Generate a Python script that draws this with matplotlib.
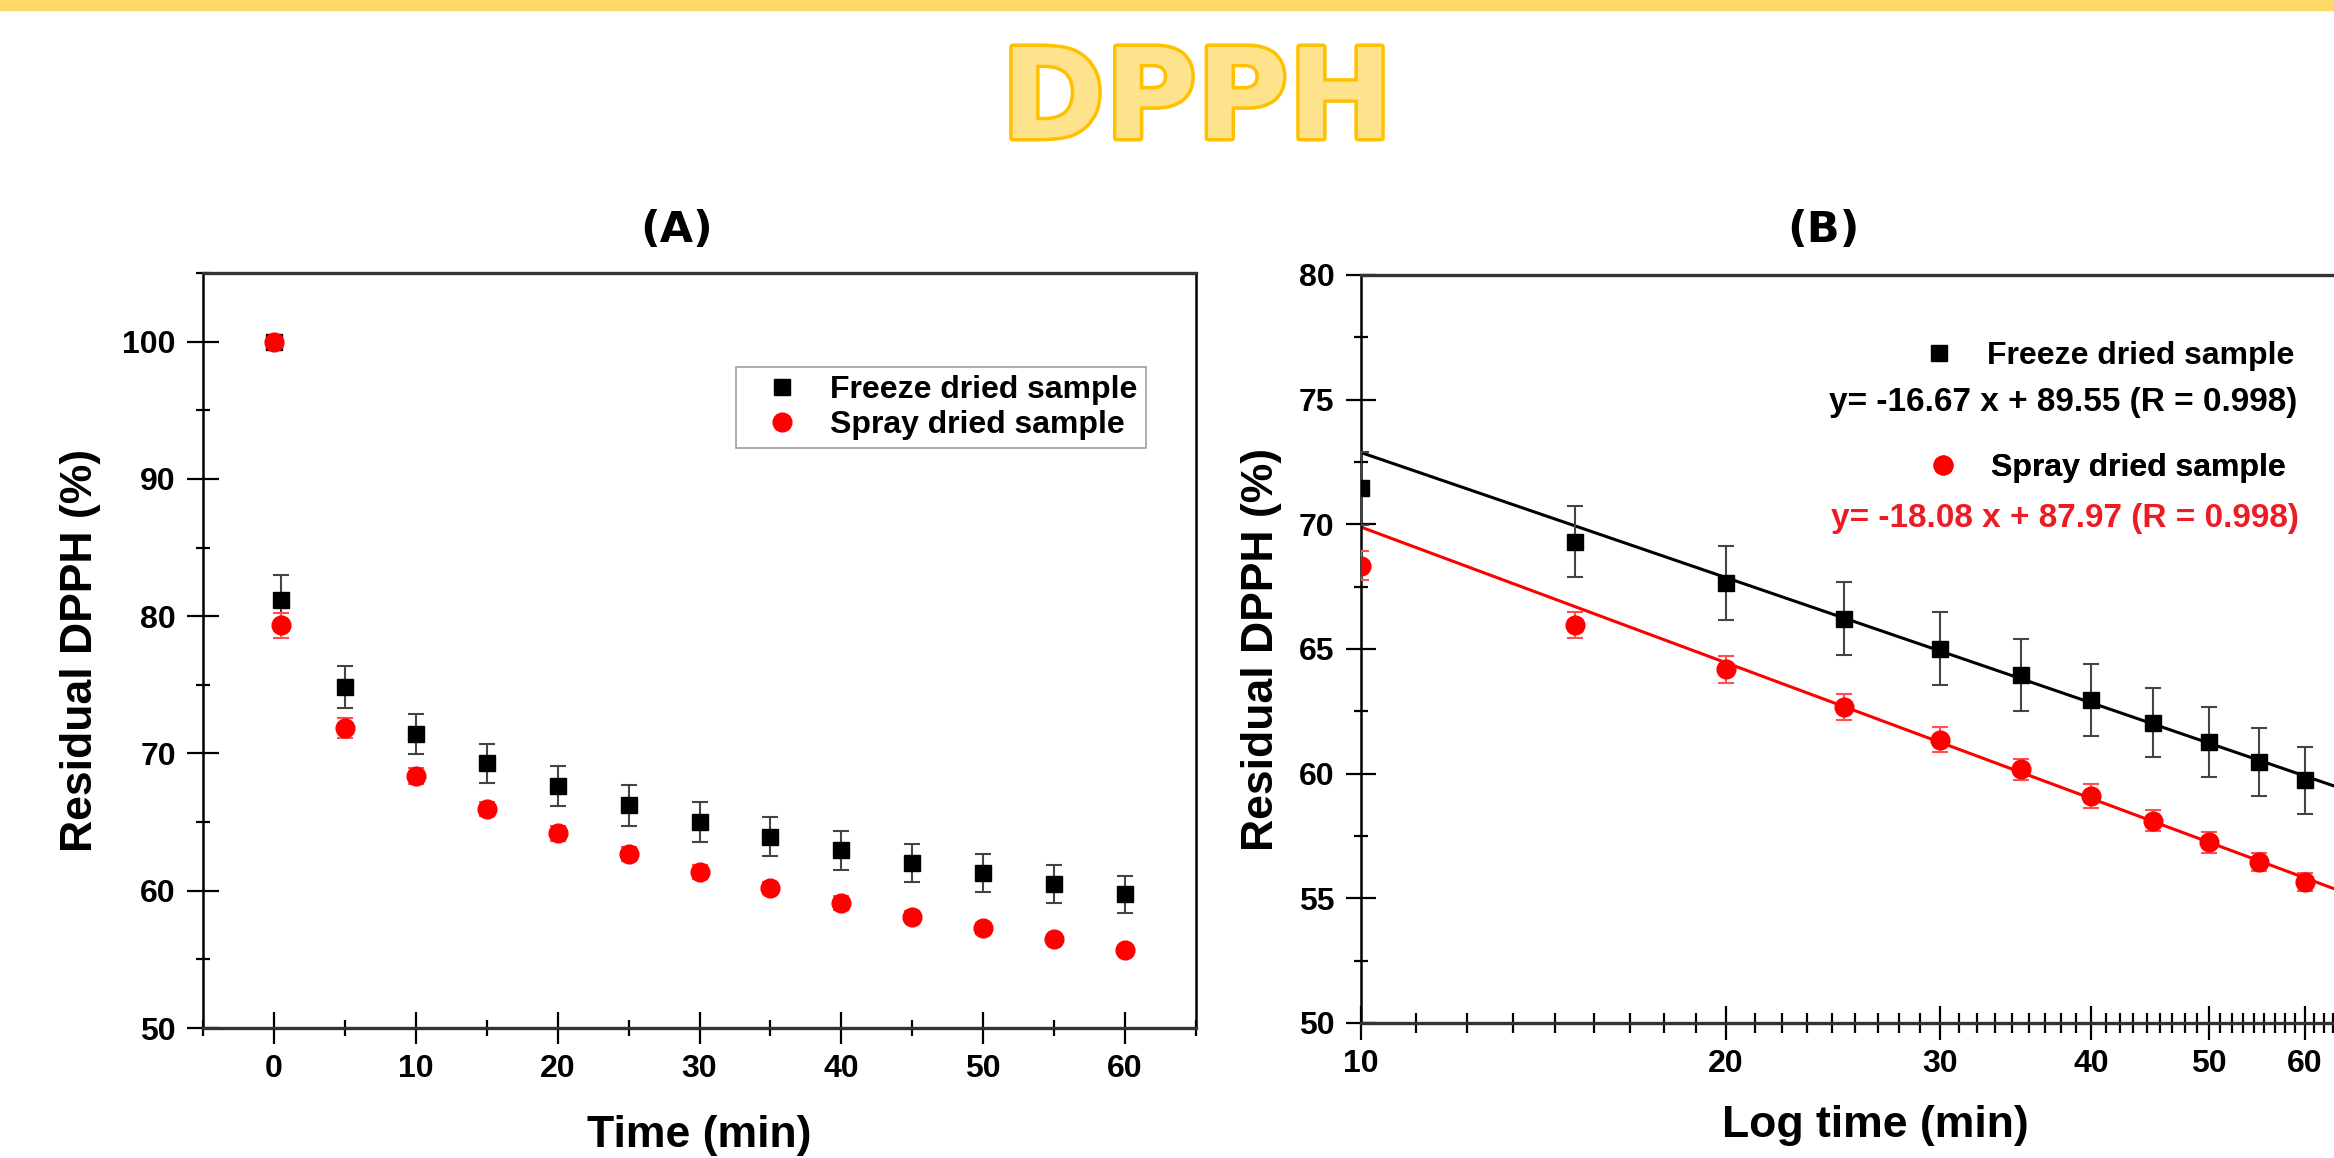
import numpy as np
import matplotlib.pyplot as plt
import matplotlib.patheffects as pe
from matplotlib.lines import Line2D
from matplotlib.patches import Rectangle
from matplotlib.ticker import NullFormatter

plt.rcParams['font.family'] = ['Liberation Sans', 'DejaVu Sans']
plt.rcParams['font.weight'] = 'bold'

# === Data ===
time_min = np.array([0, 0.5, 5, 10, 15, 20, 25, 30, 35, 40, 45, 50, 55, 60])
freeze = np.array([100.0, 81.17, 74.84, 71.45, 69.30, 67.65, 66.22, 65.02,
                   63.95, 62.94, 62.05, 61.27, 60.47, 59.73])
freeze_err = np.array([0.0, 1.80, 1.52, 1.46, 1.42, 1.47, 1.47, 1.45,
                       1.44, 1.44, 1.39, 1.39, 1.37, 1.34])
spray = np.array([100.0, 79.34, 71.87, 68.34, 65.96, 64.18, 62.68, 61.37,
                  60.17, 59.10, 58.12, 57.25, 56.45, 55.65])
spray_err = np.array([0.0, 0.90, 0.73, 0.58, 0.53, 0.53, 0.52, 0.52,
                      0.43, 0.48, 0.42, 0.42, 0.35, 0.35])

# linear fits vs log10(time), as printed on panel B
freeze_fit = (-16.67, 89.55, 0.998)
spray_fit = (-18.08, 87.97, 0.998)

labels = ['Freeze dried sample', 'Spray dried sample']

# === Figure in pixel units ===
W, H = 2334, 1158
fig = plt.figure(figsize=(W / 100, H / 100), dpi=100)
fig.patch.set_facecolor('white')


def fx(x):
    return x / W


def fy(y):
    return 1 - y / H


def box(l, t, r, b):
    return [fx(l), fy(b), (r - l) / W, (b - t) / H]


# yellow band on top + title
fig.patches.append(Rectangle((0, fy(10)), 1, 10 / H, transform=fig.transFigure,
                             color='#FFD966', zorder=0))
fig.text(fx(1197), fy(138), 'DPPH', ha='center', va='baseline', fontsize=90,
         fontweight='bold', family='DejaVu Sans', color='#FFE38C',
         path_effects=[pe.withStroke(linewidth=5, foreground='#FFC000')])
fig.text(fx(677), fy(230), '(A)', ha='center', va='center', fontsize=31,
         fontweight='bold', family='DejaVu Sans')
fig.text(fx(1823), fy(230), '(B)', ha='center', va='center', fontsize=31,
         fontweight='bold', family='DejaVu Sans')

axA = fig.add_axes(box(203, 273, 1196, 1028))
axB = fig.add_axes(box(1361, 275, 2386, 1023))  # runs past the right edge


def style_axes(ax):
    for side in ['top', 'bottom']:
        ax.spines[side].set_linewidth(2.4)
        ax.spines[side].set_color('#333333')
    for side in ['left', 'right']:
        ax.spines[side].set_linewidth(1.8)
        ax.spines[side].set_color('black')
    ax.tick_params(which='both', direction='inout', width=1.6, labelsize=23,
                   top=False, right=False)
    for lab in ax.get_xticklabels() + ax.get_yticklabels():
        lab.set_fontweight('bold')


def draw_series(ax, t, f, fe, s, se):
    ax.errorbar(t, f, yerr=fe, fmt='s', color='black', ms=12, ecolor='#444444',
                elinewidth=1.5, capsize=6, capthick=1.5, zorder=3)
    ax.errorbar(t, s, yerr=se, fmt='o', color='#FF0000', ms=13.5, ecolor='#FF5050',
                elinewidth=1.5, capsize=6, capthick=1.5, zorder=4)


# === Panel A ===
draw_series(axA, time_min, freeze, freeze_err, spray, spray_err)
axA.set_xlim(-5, 65)
axA.set_ylim(50, 105)
axA.set_xticks(np.arange(0, 61, 10))
axA.set_xticks(np.arange(-5, 66, 10), minor=True)
axA.set_yticks(np.arange(50, 101, 10))
axA.set_yticks(np.arange(55, 106, 10), minor=True)
style_axes(axA)
axA.tick_params(axis='x', which='major', length=23, pad=7)
axA.tick_params(axis='x', which='minor', length=12)
axA.tick_params(axis='y', which='major', length=23, pad=8)
axA.tick_params(axis='y', which='minor', length=10)
axA.set_xlabel('Time (min)', fontsize=32, fontweight='bold')
axA.set_ylabel('Residual DPPH (%)', fontsize=32, fontweight='bold')
axA.xaxis.set_label_coords(0.5, -0.115)
axA.yaxis.set_label_coords(-0.103, 0.5)

h_sq = Line2D([], [], marker='s', ls='none', color='black', ms=12)
h_ci = Line2D([], [], marker='o', ls='none', color='#FF0000', ms=13.5)
legA = axA.legend([h_sq, h_ci], labels, loc='upper left',
                  bbox_to_anchor=(fx(736), fy(367)), bbox_transform=fig.transFigure,
                  fontsize=23, frameon=True, fancybox=False, edgecolor='#888888',
                  borderpad=0.25, borderaxespad=0, handlelength=2.4,
                  handletextpad=0.3, labelspacing=0.16, numpoints=1)
legA.get_frame().set_linewidth(1.2)
for txt in legA.get_texts():
    txt.set_fontweight('bold')

# === Panel B ===
late = time_min >= 10
draw_series(axB, time_min[late], freeze[late], freeze_err[late],
            spray[late], spray_err[late])
t_line = np.geomspace(10, 70, 50)
axB.plot(t_line, freeze_fit[0] * np.log10(t_line) + freeze_fit[1], color='black',
         lw=2.2, zorder=2)
axB.plot(t_line, spray_fit[0] * np.log10(t_line) + spray_fit[1], color='#FF0000',
         lw=2.2, zorder=2)
axB.set_xscale('log')
axB.set_xlim(10, 70)
axB.set_ylim(50, 80)
major_b = np.arange(10, 61, 10)
minor_b = np.concatenate([np.linspace(a, a + 10, 10)[1:-1] for a in range(10, 70, 10)])
axB.set_xticks(major_b)
axB.set_xticklabels([str(v) for v in major_b])
axB.set_xticks(minor_b, minor=True)
axB.xaxis.set_minor_formatter(NullFormatter())
axB.set_yticks(np.arange(50, 81, 5))
axB.set_yticks(np.arange(52.5, 80, 5), minor=True)
style_axes(axB)
axB.tick_params(axis='x', which='major', length=25, pad=6)
axB.tick_params(axis='x', which='minor', length=14)
axB.tick_params(axis='y', which='major', length=22, pad=8)
axB.tick_params(axis='y', which='minor', length=10)
axB.set_xlabel('Log time (min)', fontsize=32, fontweight='bold')
axB.set_ylabel('Residual DPPH (%)', fontsize=32, fontweight='bold')
axB.xaxis.set_label_coords(0.502, -0.11)
axB.yaxis.set_label_coords(-0.077, 0.5)

for h, lab, (x0, y0) in [(h_sq, labels[0], (1901, 356)), (h_ci, labels[1], (1905, 468))]:
    leg = axB.legend([h], [lab], loc='center left', bbox_to_anchor=(fx(x0), fy(y0)),
                     bbox_transform=fig.transFigure, fontsize=23, frameon=False,
                     borderpad=0, borderaxespad=0, handlelength=2.4,
                     handletextpad=0.28, numpoints=1)
    leg.get_texts()[0].set_fontweight('bold')
    axB.add_artist(leg)

for fit, color, (x0, y0) in [(freeze_fit, 'black', (2297, 402)),
                             (spray_fit, '#ED1C24', (2299, 518))]:
    eq = f'y= {fit[0]:.2f} x + {fit[1]:.2f} (R = {fit[2]:.3f})'
    fig.text(fx(x0), fy(y0), eq, ha='right', va='center', fontsize=24,
             fontweight='bold', color=color)

fig.savefig('out.png', dpi=100)
